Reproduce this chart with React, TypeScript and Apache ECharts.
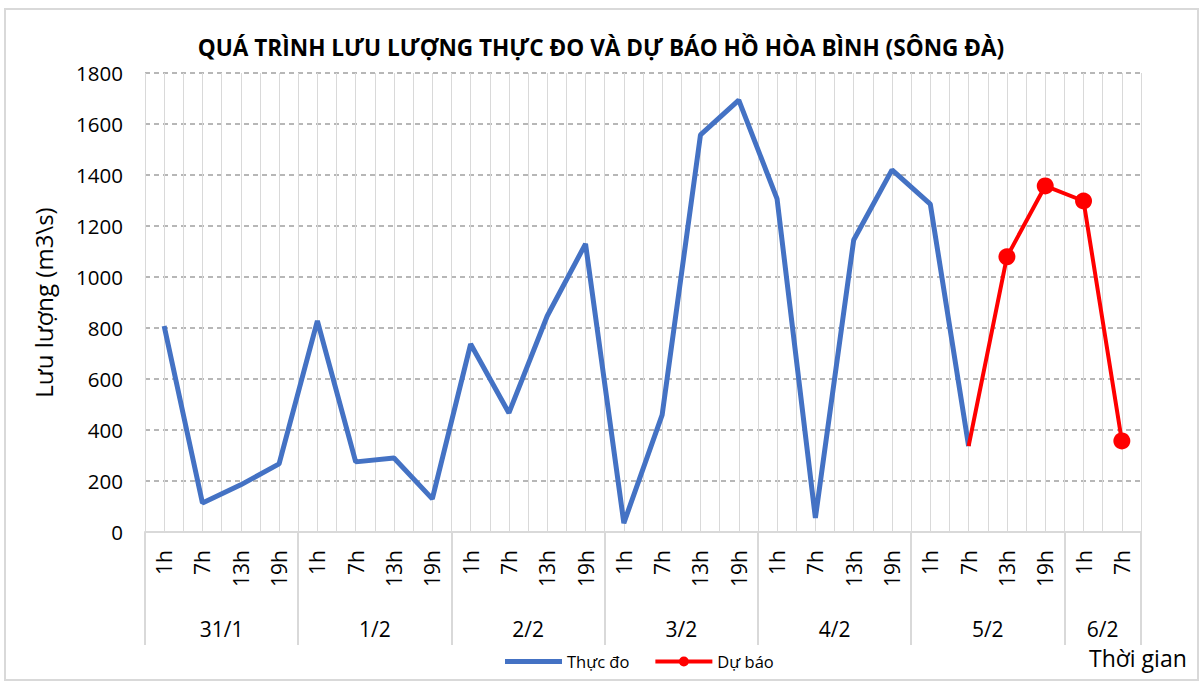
import React, { useEffect, useRef } from "react";
import * as echarts from "echarts";

const hours = ["1h","7h","13h","19h","1h","7h","13h","19h","1h","7h","13h","19h","1h","7h","13h","19h","1h","7h","13h","19h","1h","7h","13h","19h","1h","7h"];
const days = ["31/1","1/2","2/2","3/2","4/2","5/2","6/2"];
const dayCenters = [2, 6, 10, 14, 18, 22, 25];
const dayBounds = [0, 4, 8, 12, 16, 20, 24, 26];
const observed = [808,114,185,267,828,275,290,130,737,467,847,1130,35,459,1557,1694,1306,55,1145,1420,1286,337,null,null,null,null];
const forecast = [null,null,null,null,null,null,null,null,null,null,null,null,null,null,null,null,null,null,null,null,null,337,1079,1357,1298,357];
const yTicks = [0,200,400,600,800,1000,1200,1400,1600,1800];

const FONT = "Open Sans";

const BLUE_ICON = "path://M0,0M0,4.5h57v5h-57zM57,14";
const RED_ICON = "path://M0,0M0,5h57v4h-57zM23.5,7a5,5 0 1,1 10,0a5,5 0 1,1 -10,0zM57,14";

export default function App() {
  const ref = useRef<HTMLDivElement>(null);
  useEffect(() => {
    if (!ref.current) return;
    const chart = echarts.init(ref.current, undefined, { renderer: "svg" });
    const firstF = forecast.findIndex((v) => v !== null);
    const fData = forecast.map((v, i) => (i === firstF ? { value: v, symbol: "none" } : v));
    chart.setOption({
      animation: false,
      backgroundColor: "#fff",
      textStyle: { fontFamily: FONT },
      title: {
        text: "QUÁ TRÌNH LƯU LƯỢNG THỰC ĐO VÀ DỰ BÁO HỒ HÒA BÌNH (SÔNG ĐÀ)",
        left: 596,
        textAlign: "center",
        top: 31,
        textStyle: { fontFamily: FONT, fontSize: 22.6, fontWeight: "bold", color: "#000" },
      },
      grid: { left: 145, right: 62, top: 73, bottom: 150 },
      legend: {
        left: 500,
        top: 648,
        itemWidth: 57,
        itemHeight: 14,
        itemGap: 26,
        textStyle: { fontFamily: FONT, fontSize: 16.5, color: "#000" },
        data: [
          { name: "Thực đo", icon: BLUE_ICON },
          { name: "Dự báo", icon: RED_ICON },
        ],
      },
      graphic: [
        {
          type: "rect",
          shape: { x: 5, y: 9, width: 1193, height: 671 },
          style: { fill: "none", stroke: "#d9d9d9", lineWidth: 2 },
          silent: true,
        },
        {
          type: "text",
          x: 1089,
          y: 646,
          style: { text: "Thời gian", fontFamily: FONT, fontSize: 23, fill: "#000" },
        },
      ],
      xAxis: [
        {
          type: "category",
          data: hours,
          boundaryGap: true,
          axisLine: { show: true, lineStyle: { color: "#d9d9d9", width: 2 } },
          axisTick: { show: false },
          axisLabel: { rotate: 90, margin: 18, fontFamily: FONT, fontSize: 21, color: "#000" },
          splitLine: { show: false },
        },
        {
          type: "value",
          min: 0,
          max: 26,
          position: "bottom",
          axisLine: { show: false },
          axisTick: {
            show: true,
            customValues: dayBounds,
            length: 113,
            lineStyle: { color: "#d9d9d9", width: 2 },
          },
          axisLabel: {
            show: true,
            customValues: dayCenters,
            margin: 86,
            fontFamily: FONT,
            fontSize: 21,
            color: "#000",
            formatter: (v: number) => {
              const k = dayCenters.indexOf(v);
              return k >= 0 ? days[k] : "";
            },
          },
          splitLine: { show: false },
        },
        {
          type: "value",
          min: 0,
          max: 26,
          interval: 0.5,
          show: true,
          axisLine: { show: false },
          axisTick: { show: false },
          axisLabel: { show: false },
          splitLine: { show: true, lineStyle: { color: "#d9d9d9", width: 1 } },
        },
      ],
      yAxis: {
        type: "value",
        min: yTicks[0],
        max: yTicks[yTicks.length - 1],
        interval: 200,
        name: "Lưu lượng (m3\\s)",
        nameLocation: "middle",
        nameRotate: 90,
        nameGap: 90,
        nameTextStyle: { fontFamily: FONT, fontSize: 24, color: "#000" },
        axisLine: { show: false },
        axisTick: { show: false },
        axisLabel: {
          fontFamily: FONT,
          fontSize: 20.5,
          color: "#000",
          margin: 22,
          formatter: (v: number) => String(v),
        },
        splitLine: { show: true, lineStyle: { color: "#a0a0a0", type: [5, 4], width: 1.5 } },
      },
      series: [
        {
          name: "Thực đo",
          type: "line",
          xAxisIndex: 0,
          data: observed,
          symbol: "none",
          connectNulls: false,
          lineStyle: { color: "#4472C4", width: 5 },
          itemStyle: { color: "#4472C4" },
        },
        {
          name: "Dự báo",
          type: "line",
          xAxisIndex: 0,
          data: fData,
          symbol: "circle",
          symbolSize: 17,
          connectNulls: false,
          lineStyle: { color: "#FF0000", width: 4 },
          itemStyle: { color: "#FF0000" },
        },
      ],
    });
    return () => chart.dispose();
  }, []);
  return (
    <div
      ref={ref}
      style={{ position: "absolute", left: 0, top: 0, width: 1203, height: 682 }}
    />
  );
}
